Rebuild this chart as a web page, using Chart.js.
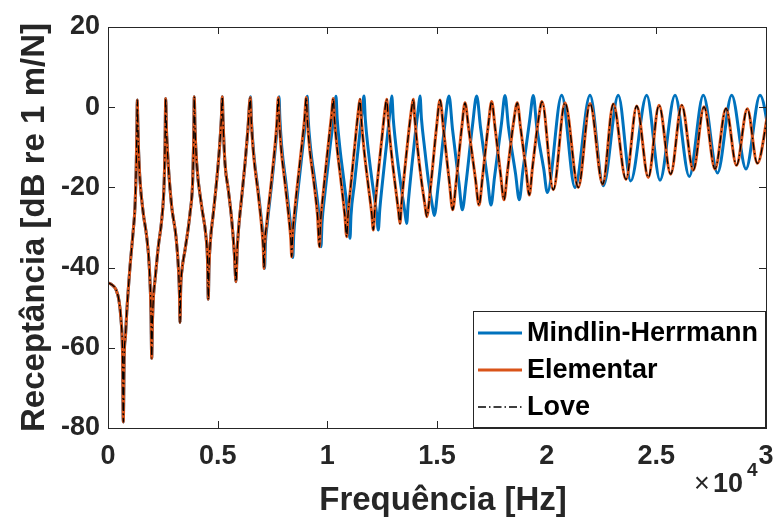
<!DOCTYPE html>
<html><head><meta charset="utf-8">
<script src="https://cdn.jsdelivr.net/npm/chart.js@4.4.1/dist/chart.umd.min.js"></script>
<style>html,body{margin:0;padding:0;background:#fff;}#wrap{width:776px;height:519px;}</style>
</head><body><div id="wrap"><canvas id="c" width="776" height="519"></canvas></div>
<script>
// ---- tick values / labels ----
const X_TICK_VALUES = [0, 5000, 10000, 15000, 20000, 25000, 30000];
const X_TICK_LABELS = ['0', '0.5', '1', '1.5', '2', '2.5', '3'];
const Y_TICK_VALUES = [20, 0, -20, -40, -60, -80];
const SERIES_NAMES = ['Mindlin-Herrmann', 'Elementar', 'Love'];

// ---- low-frequency part (all three theories coincide), Hz / dB ----
const sharedLowFreq = [0,182,365,502,593,661,698,739,798,853,1003,1153,1231,1290,1318,1336,1359,1395,1459,1609,1764,1883,1960,1992,2029,2075,2143,2293,2448,2553,2599,2631,2662,2703,2749,2904,3100,3223,3260,3283,3315,3374,3511,3739,3862,3907,3935,3967,4044,4272,4468,4536,4573,4605,4674,4801,4957,5084,5166,5212,5243,5335,5485,5640,5759,5836];
const sharedLowDb = [-43.8,-44.3,-45.5,-48.3,-53,-61,-78.5,-62,-57,-51.3,-39.8,-30.6,-24.8,-14,-5,1.8,-4,-11,-18.2,-26.5,-32.3,-39.8,-51.3,-62.6,-53,-47,-43.1,-34.8,-28.1,-19.8,-9.9,2.2,-5,-10,-14.5,-24.8,-32.3,-41.3,-47,-53.7,-45,-40.5,-35.6,-26.5,-18.2,-8.2,2.6,-5,-14,-24.8,-32.3,-38,-47.9,-40,-33,-26.5,-18.2,-10,-3,2.6,-3,-14,-20.6,-28.1,-36.4,-43.5];

// ---- Elementar, above ~5.8 kHz ----
const elementarHighFreq = [5886,5950,6096,6246,6374,6488,6529,6625,6853,7008,7076,7113,7149,7236,7464,7692,7765,7806,7888,8071,8253,8335,8376,8417,8527,8754,8960,9041,9087,9187,9392,9552,9643,9688,9802,10030,10190,10272,10327,10441,10623,10797,10883,10942,11079,11261,11412,11489,11549,11672,11854,12023,12096,12164,12310,12492,12629,12707,12775,12903,13085,13245,13313,13382,13541,13724,13851,13920,13988,14111,14294,14453,14531,14705,14978,15137,15296,15570,15716,15866,16140,16277,16436,16755,16915,17074,17348,17494,17645,17895,18055,18214,18511,18661,18807,19058,19208,19354,19627,19787,20302,20836,21442,21976,22555,23038,23617,24105,24634,25122,25655,26157,26685,27173,27675,28177,28655,29148,29604,30114];
const elementarHighDb = [-36,-30.6,-22.3,-14,-5.7,2.4,-3,-11.1,-21.9,-30,-35,-40.2,-34,-29,-17.7,-4.4,2.4,-3,-10,-19,-28,-33,-37.3,-32,-25,-13.5,-3,2.4,-3,-10,-19,-27,-34.8,-29,-22,-10,-2,2.2,-3,-10,-18.5,-27,-32.3,-27,-19,-9,-1,2,-3,-10.5,-19,-26.5,-30.6,-25.5,-17,-7.5,-0.5,2,-3,-10.5,-19,-26,-29,-24,-15,-5.5,0,2,-3,-10,-18.5,-24.5,-27.3,-20,-5,1.8,-5.5,-19,-25.6,-19,-4.5,1.1,-5,-18,-24.4,-17.5,-4,1.4,-5,-16.5,-23.1,-16,-3,1.1,-5,-15.5,-21.9,-15,-3,1.4,-20.6,1.1,-20,0.9,-19.2,0.8,-18,0.3,-17.5,0.5,-16.7,0.5,-15.7,0.1,-15.4,-0.3,-14.5,-0.4,-14,-0.6];

// ---- Mindlin-Herrmann, above ~5.8 kHz ----
const mindlinHighFreq = [5886,5950,6100,6250,6378,6497,6538,6638,6871,7030,7103,7140,7177,7263,7491,7719,7797,7838,7924,8116,8298,8385,8426,8467,8581,8809,9009,9087,9128,9233,9447,9620,9711,9757,9880,10122,10304,10395,10450,10569,10760,10942,11034,11079,11238,11430,11590,11672,11731,11863,12055,12246,12324,12392,12547,12734,12866,12939,13007,13144,13340,13532,13618,13687,13846,14033,14156,14225,14293,14430,14613,14786,14877,15046,15342,15547,15707,16003,16154,16322,16619,16810,16984,17303,17462,17622,17941,18100,18260,18579,18752,18911,19231,19391,19550,19869,20029,20686,21292,21976,22582,23266,23831,24561,25167,25851,26503,27141,27788,28436,29088,29727,30365];
const mindlinHighDb = [-36,-30.6,-22.3,-14,-5.7,2.6,-3,-11.1,-21.9,-30,-35,-40.2,-34,-29,-17.7,-4.4,2.6,-3,-10,-19,-28,-33,-37.5,-32,-25,-13.5,-3,2.7,-3,-10,-19,-27,-34.8,-29,-22,-10,-2,2.7,-3,-10,-18.5,-27,-32.7,-27,-19,-9,-1,2.8,-3,-10.5,-19,-26.5,-30.6,-25.5,-17,-7.5,-0.5,2.8,-3,-10.5,-19,-26,-29,-24,-15,-5.5,0,2.8,-3,-10,-18.5,-24.5,-27,-20,-5,2.8,-5.5,-19,-25.6,-19,-4.5,2.8,-5,-18,-24.4,-17.5,-4,2.9,-5,-16.5,-23.1,-16,-3,2.9,-5,-15.5,-21.3,3,-20,3,-19.6,3,-18.4,3,-18.2,3,-17.3,3,-16.4,3,-15.4,3,-15];

// ---- assembled series ----
const mindlinFreq = sharedLowFreq.concat(mindlinHighFreq);
const mindlinDb = sharedLowDb.concat(mindlinHighDb);
const elementarFreq = sharedLowFreq.concat(elementarHighFreq);
const elementarDb = sharedLowDb.concat(elementarHighDb);
const loveFreq = sharedLowFreq.concat(elementarHighFreq);   // Love overlays Elementar in the picture
const loveDb = sharedLowDb.concat(elementarHighDb);

const COLORS = ['#0072BD', '#D95319', '#000000'];
const AXIS_COLOR = '#262626';
const FONT = '"Liberation Sans", Arial, Helvetica, sans-serif';

const toPts = (f, d) => f.map((x, i) => ({x: x, y: d[i]}));

const framePlugin = {
  id: 'frame',
  afterDraw(chart) {
    const ctx = chart.ctx, a = chart.chartArea;
    const xs = chart.scales.x, ys = chart.scales.y;
    ctx.save();
    ctx.strokeStyle = AXIS_COLOR;
    ctx.lineWidth = 1;
    ctx.strokeRect(Math.round(a.left) + 0.5, Math.round(a.top) + 0.5, Math.round(a.right - a.left), Math.round(a.bottom - a.top));
    const tl = 7;
    ctx.beginPath();
    X_TICK_VALUES.forEach(v => {
      const px = Math.round(xs.getPixelForValue(v)) + 0.5;
      ctx.moveTo(px, a.bottom); ctx.lineTo(px, a.bottom - tl);
      ctx.moveTo(px, a.top); ctx.lineTo(px, a.top + tl);
    });
    Y_TICK_VALUES.forEach(v => {
      const py = Math.round(ys.getPixelForValue(v)) + 0.5;
      ctx.moveTo(a.left, py); ctx.lineTo(a.left + tl, py);
      ctx.moveTo(a.right, py); ctx.lineTo(a.right - tl, py);
    });
    ctx.stroke();

    // axis titles
    ctx.fillStyle = AXIS_COLOR;
    ctx.font = 'bold 33px ' + FONT;
    ctx.textAlign = 'center';
    ctx.textBaseline = 'alphabetic';
    ctx.fillText('Frequência [Hz]', 443, 510);
    ctx.save();
    ctx.translate(44, (a.top + a.bottom) / 2);
    ctx.rotate(-Math.PI / 2);
    ctx.fillText('Receptância [dB re 1 m/N]', 0, 0);
    ctx.restore();

    // exponent
    ctx.textAlign = 'left';
    ctx.font = '27px ' + FONT;
    ctx.fillText('×', 694, 492);
    ctx.font = 'bold 27px ' + FONT;
    ctx.fillText('10', 713, 492);
    ctx.font = 'bold 19px ' + FONT;
    ctx.fillText('4', 747, 476);

    // legend
    const lx = 473, ly = 311, lw = 292, lh = 116;
    ctx.fillStyle = '#ffffff';
    ctx.fillRect(lx, ly, lw, lh);
    ctx.strokeStyle = AXIS_COLOR;
    ctx.lineWidth = 1;
    ctx.strokeRect(lx + 0.5, ly + 0.5, lw, lh);
    const rows = [333, 370, 407];
    chart.data.datasets.forEach((ds, i) => {
      const y = rows[i];
      ctx.save();
      ctx.strokeStyle = ds.borderColor;
      ctx.lineWidth = ds.borderWidth;
      ctx.setLineDash(ds.borderDash || []);
      ctx.beginPath();
      ctx.moveTo(478, y); ctx.lineTo(522, y);
      ctx.stroke();
      ctx.restore();
      ctx.fillStyle = '#000';
      ctx.font = 'bold 27px ' + FONT;
      ctx.textBaseline = 'middle';
      ctx.fillText(ds.label, 527, y + 1);
    });
    ctx.restore();
  }
};

new Chart(document.getElementById('c'), {
  type: 'line',
  data: {
    datasets: [
      {label: SERIES_NAMES[0], data: toPts(mindlinFreq, mindlinDb), borderColor: COLORS[0], borderWidth: 3, order: 3},
      {label: SERIES_NAMES[1], data: toPts(elementarFreq, elementarDb), borderColor: COLORS[1], borderWidth: 3, order: 2},
      {label: SERIES_NAMES[2], data: toPts(loveFreq, loveDb), borderColor: COLORS[2], borderWidth: 1.3, borderDash: [8, 3, 1.5, 3], borderCapStyle: 'butt', order: 1}
    ]
  },
  options: {
    responsive: false,
    animation: false,
    devicePixelRatio: 1,
    layout: {padding: {top: 27, right: 10, left: 0, bottom: 0}},
    elements: {
      point: {radius: 0},
      line: {cubicInterpolationMode: 'monotone', borderJoinStyle: 'round', fill: false}
    },
    plugins: {legend: {display: false}, tooltip: {enabled: false}},
    scales: {
      x: {
        type: 'linear', min: 0, max: 30000,
        afterBuildTicks: s => { s.ticks = X_TICK_VALUES.map(v => ({value: v})); },
        ticks: {
          callback: v => X_TICK_LABELS[X_TICK_VALUES.indexOf(v)],
          font: {family: FONT, weight: 'bold', size: 27}, color: AXIS_COLOR,
          padding: 12, maxRotation: 0, autoSkip: false
        },
        grid: {display: false, drawTicks: false},
        border: {display: false},
        afterFit: s => { s.height = 91; s.paddingLeft = 0; s.paddingRight = 0; }
      },
      y: {
        min: -80, max: 20,
        afterBuildTicks: s => { s.ticks = Y_TICK_VALUES.map(v => ({value: v})); },
        ticks: {
          font: {family: FONT, weight: 'bold', size: 27}, color: AXIS_COLOR,
          padding: 8, autoSkip: false
        },
        grid: {display: false, drawTicks: false},
        border: {display: false},
        afterFit: s => { s.width = 108; s.paddingTop = 0; s.paddingBottom = 0; }
      }
    }
  },
  plugins: [framePlugin]
});
</script>
</body></html>
